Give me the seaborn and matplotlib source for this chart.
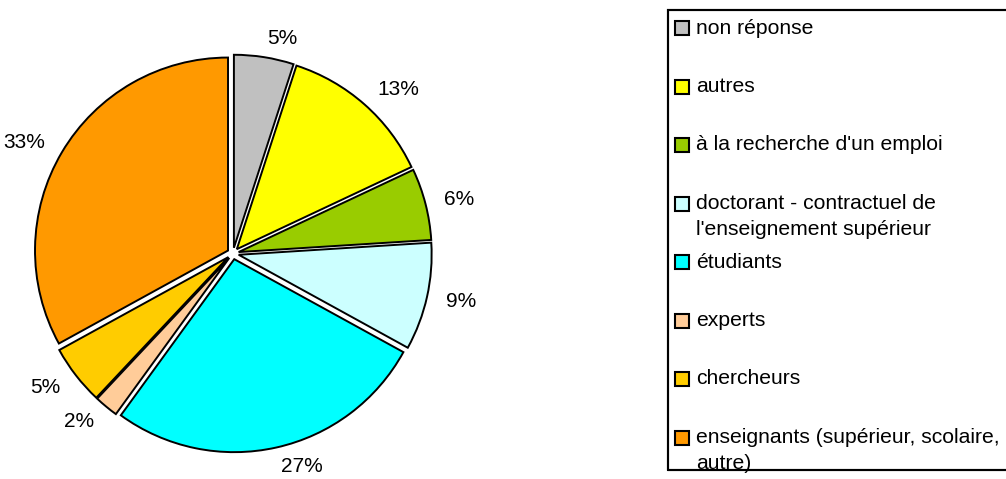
import matplotlib
matplotlib.use("Agg")
import matplotlib.pyplot as plt
from matplotlib.patches import Rectangle
import seaborn as sns

categories = ["non réponse", "autres", "à la recherche d'un emploi",
              "doctorant - contractuel de\nl'enseignement supérieur",
              "étudiants", "experts", "chercheurs",
              "enseignants (supérieur, scolaire,\nautre)"]
values = [5, 13, 6, 9, 27, 2, 5, 33]
pct_labels = ["5%", "13%", "6%", "9%", "27%", "2%", "5%", "33%"]
colors = ["#C0C0C0", "#FFFF00", "#99CC00", "#CCFFFF",
          "#00FFFF", "#FFCC99", "#FFCC00", "#FF9900"]

sns.set_theme(style="white")
plt.rcParams["font.family"] = ["Liberation Sans", "DejaVu Sans"]

W, H = 1006, 479
fig = plt.figure(figsize=(W / 100, H / 100), dpi=100)
fig.patch.set_facecolor("white")

# pie axes: centre (233,253.5) px, radius 193 px
R = 193
cx, cy = 233, 253.5
half = 1.15 * R
ax = fig.add_axes([(cx - half) / W, (H - cy - half) / H, 2 * half / W, 2 * half / H])
wedges, texts = ax.pie(values, labels=pct_labels, colors=colors, startangle=90,
                       counterclock=False, explode=[0.03] * len(values),
                       labeldistance=1.1,
                       wedgeprops=dict(edgecolor="black", linewidth=1.4),
                       textprops=dict(fontsize=15, color="black"))
ax.set_xlim(-1.15, 1.15)
ax.set_ylim(-1.15, 1.15)
ax.set_aspect("equal")
ax.axis("off")

# legend box (manual, mimicking the original clipped legend)
box = Rectangle((668 / W, (H - 470) / H), 342 / W, 460 / H, transform=fig.transFigure,
                facecolor="white", edgecolor="black", linewidth=1.5, zorder=1)
fig.add_artist(box)
for i, (lab, col) in enumerate(zip(categories, colors)):
    y = 28 + 58.5 * i
    sq = Rectangle((675 / W, (H - y - 7) / H), 14 / W, 14 / H, transform=fig.transFigure,
                   facecolor=col, edgecolor="black", linewidth=1.5, zorder=2)
    fig.add_artist(sq)
    for j, line in enumerate(lab.split("\n")):
        fig.text(696 / W, (H - y - 26 * j) / H, line, fontsize=15.2, ha="left",
                 va="center", color="black", zorder=2.5)

fig.add_artist(Rectangle((668 / W, (H - 470) / H), 342 / W, 460 / H, transform=fig.transFigure,
                         facecolor="none", edgecolor="black", linewidth=1.5, zorder=3))

fig.savefig("out.png", dpi=100, facecolor="white")
